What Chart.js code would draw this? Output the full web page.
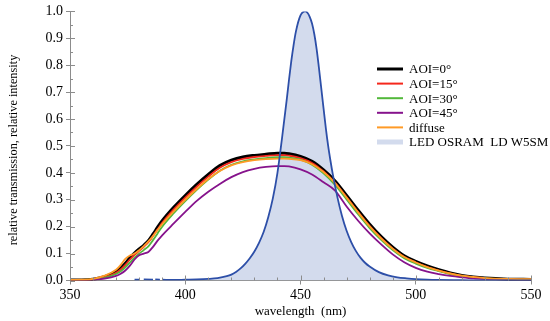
<!DOCTYPE html>
<html>
<head>
<meta charset="utf-8">
<script src="https://cdn.jsdelivr.net/npm/chart.js@4.4.0/dist/chart.umd.min.js"></script>
<style>
  html, body { margin: 0; padding: 0; background: #fff; }
  #wrap { width: 550px; height: 321px; position: relative; }
</style>
</head>
<body>
<div id="wrap"><canvas id="myChart"></canvas></div>
<script>
// transmission curves, all on the same wavelength grid (nm)
const wavelengths = [350,355,360,365,370,372,374,376,378,380,382,384,386,388,390,395,400,405,410,415,420,425,430,435,440,443,445,450,455,460,465,470,475,480,485,490,495,500,505,510,515,520,525,530,540,550];
const aoi0 =    [0.002,0.002,0.005,0.014,0.033,0.046,0.064,0.085,0.102,0.117,0.131,0.148,0.172,0.198,0.222,0.272,0.316,0.357,0.394,0.427,0.447,0.459,0.465,0.469,0.473,0.473,0.471,0.461,0.443,0.411,0.370,0.316,0.261,0.209,0.163,0.124,0.092,0.071,0.054,0.040,0.028,0.019,0.013,0.009,0.005,0.004];
const aoi15 =   [0.002,0.002,0.004,0.012,0.029,0.041,0.058,0.078,0.095,0.110,0.125,0.142,0.165,0.190,0.214,0.264,0.308,0.349,0.386,0.419,0.440,0.452,0.459,0.463,0.466,0.466,0.464,0.455,0.437,0.405,0.363,0.309,0.254,0.202,0.157,0.118,0.087,0.067,0.050,0.037,0.026,0.017,0.012,0.008,0.005,0.004];
const aoi30 =   [0.001,0.002,0.004,0.010,0.024,0.034,0.049,0.067,0.085,0.100,0.113,0.127,0.150,0.175,0.200,0.250,0.295,0.337,0.375,0.408,0.430,0.443,0.450,0.455,0.458,0.458,0.457,0.449,0.430,0.398,0.355,0.301,0.246,0.195,0.151,0.113,0.083,0.063,0.047,0.035,0.024,0.016,0.011,0.008,0.005,0.004];
const aoi45 =   [0.001,0.001,0.003,0.007,0.017,0.025,0.037,0.055,0.078,0.094,0.100,0.106,0.125,0.148,0.168,0.212,0.255,0.296,0.330,0.359,0.384,0.403,0.415,0.422,0.425,0.425,0.424,0.413,0.394,0.365,0.334,0.275,0.222,0.175,0.134,0.097,0.068,0.047,0.033,0.024,0.017,0.012,0.008,0.006,0.004,0.003];
const diffuse = [0.002,0.003,0.006,0.018,0.040,0.058,0.080,0.093,0.100,0.113,0.128,0.145,0.165,0.188,0.210,0.257,0.300,0.340,0.377,0.407,0.428,0.440,0.447,0.451,0.453,0.453,0.452,0.447,0.432,0.403,0.362,0.308,0.253,0.201,0.156,0.118,0.087,0.067,0.050,0.037,0.026,0.018,0.013,0.009,0.006,0.005];

// LED spectrum (null = gap in the measured trace)
const ledWavelengths = [378,380,381,382,386,386.5,387,389,389.5,390,395,400,405,410,414,418,420,422,424,426,428,430,432,434,436,438,440,442,444,445,446,447,448,450,452,453,454,455,456,457,458,459,460,461,462,463,464,466,468,470,472,474,476,478,480,484,488,492,496,500,505,510,520,530,540,550];
const ledIntensity =   [0.003,0.003,null,0.004,0.003,null,0.004,0.003,null,0.003,0.002,0.003,0.004,0.006,0.009,0.016,0.022,0.032,0.045,0.062,0.083,0.108,0.140,0.180,0.235,0.305,0.400,0.530,0.670,0.745,0.815,0.875,0.925,0.985,1.000,0.995,0.980,0.955,0.915,0.860,0.790,0.715,0.640,0.565,0.500,0.445,0.395,0.310,0.240,0.185,0.143,0.110,0.085,0.066,0.052,0.031,0.019,0.012,0.008,0.005,0.003,0.002,0.001,0.000,0.000,0.000];

const seriesLabels = ['AOI=0°', 'AOI=15°', 'AOI=30°', 'AOI=45°', 'diffuse', 'LED OSRAM  LD W5SM'];
const seriesColors = ['#000000', '#f5281c', '#52b83a', '#86138c', '#ff9a26', '#d3dbed'];
const ledLineColor = '#2d4fa8';

const xTickValues = [350, 400, 450, 500, 550];
const yTickValues = [0, 0.1, 0.2, 0.3, 0.4, 0.5, 0.6, 0.7, 0.8, 0.9, 1.0];

const serif = "'Liberation Serif', 'Times New Roman', serif";
const axisColor = '#8c8c8c';

function toPoints(xs, ys) {
    return xs.map((x, i) => ({ x: x, y: ys[i] }));
}

function curve(label, ys, color, width, order) {
    return {
        label: label,
        data: toPoints(wavelengths, ys),
        borderColor: color,
        borderWidth: width,
        pointRadius: 0,
        fill: false,
        cubicInterpolationMode: 'monotone',
        order: order
    };
}

// small extra ticks, Mathematica style
const minorTicks = {
    id: 'minorTicks',
    afterDraw(chart) {
        const ctx = chart.ctx;
        const x = chart.scales.x, y = chart.scales.y;
        const x0 = x.getPixelForValue(350), y0 = y.getPixelForValue(0);
        ctx.save();
        ctx.strokeStyle = axisColor;
        ctx.lineWidth = 1;
        ctx.beginPath();
        for (let v = 360; v < 550; v += 10) {
            if (v % 50 === 0) continue;
            const px = Math.round(x.getPixelForValue(v)) + 0.5;
            ctx.moveTo(px, y0); ctx.lineTo(px, y0 - 3);
        }
        for (let i = 0; i < yTickValues.length - 1; i++) {
            const py = Math.round(y.getPixelForValue(yTickValues[i] + 0.05)) + 0.5;
            ctx.moveTo(x0, py); ctx.lineTo(x0 + 3, py);
        }
        xTickValues.forEach(v => {
            const px = Math.round(x.getPixelForValue(v)) + 0.5;
            ctx.moveTo(px, y0); ctx.lineTo(px, y0 - 5);
        });
        yTickValues.forEach(v => {
            const py = Math.round(y.getPixelForValue(v)) + 0.5;
            ctx.moveTo(x0, py); ctx.lineTo(x0 + 5, py);
        });
        ctx.stroke();
        ctx.restore();
    }
};

const plotLegend = {
    id: 'plotLegend',
    afterDraw(chart) {
        const ctx = chart.ctx;
        ctx.save();
        ctx.font = '13px ' + serif;
        ctx.textBaseline = 'middle';
        ctx.fillStyle = '#000';
        seriesLabels.forEach((label, i) => {
            const rowY = 69 + i * 14.6;
            ctx.strokeStyle = seriesColors[i];
            ctx.lineWidth = i === 0 ? 3 : (i === 5 ? 5 : 2);
            ctx.beginPath();
            ctx.moveTo(377, rowY);
            ctx.lineTo(403, rowY);
            ctx.stroke();
            ctx.fillText(label, 409, rowY + 1);
        });
        ctx.restore();
    }
};

// y title drawn by hand so it can sit slightly lower than the scale centre
const yTitle = {
    id: 'yTitle',
    afterDraw(chart) {
        const ctx = chart.ctx;
        ctx.save();
        ctx.translate(14, 150);
        ctx.rotate(-Math.PI / 2);
        ctx.font = '12.3px ' + serif;
        ctx.fillStyle = '#000';
        ctx.textAlign = 'center';
        ctx.textBaseline = 'middle';
        ctx.fillText('relative transmission, relative intensity', 0, 0);
        ctx.restore();
    }
};

const ctx = document.querySelector('#myChart').getContext('2d');
new Chart(ctx, {
    type: 'line',
    data: {
        datasets: [
            {
                label: 'LED fill',
                data: toPoints(ledWavelengths, ledIntensity),
                borderWidth: 0,
                pointRadius: 0,
                backgroundColor: seriesColors[5],
                fill: 'origin',
                spanGaps: false,
                cubicInterpolationMode: 'monotone',
                order: 10
            },
            curve(seriesLabels[0], aoi0, seriesColors[0], 3, 6),
            curve(seriesLabels[1], aoi15, seriesColors[1], 1.8, 5),
            curve(seriesLabels[2], aoi30, seriesColors[2], 1.8, 4),
            curve(seriesLabels[3], aoi45, seriesColors[3], 1.8, 3),
            curve(seriesLabels[4], diffuse, seriesColors[4], 1.8, 2),
            {
                label: seriesLabels[5],
                data: toPoints(ledWavelengths, ledIntensity),
                borderColor: ledLineColor,
                borderWidth: 1.8,
                pointRadius: 0,
                fill: false,
                spanGaps: false,
                cubicInterpolationMode: 'monotone',
                order: 1
            }
        ]
    },
    options: {
        responsive: true,
        maintainAspectRatio: false,
        animation: false,
        layout: { padding: { top: 9, right: 19, left: 0, bottom: 0 } },
        plugins: {
            legend: { display: false },
            tooltip: { enabled: false }
        },
        scales: {
            x: {
                type: 'linear',
                min: 350,
                max: 550,
                afterFit(scale) { scale.height = 40.5; },
                afterBuildTicks(scale) { scale.ticks = xTickValues.map(v => ({ value: v })); },
                grid: { display: true, drawOnChartArea: false, drawTicks: true, tickLength: 4, color: axisColor },
                border: { display: true, color: axisColor, width: 1 },
                ticks: { color: '#000', font: { family: serif, size: 14 }, padding: 2, maxRotation: 0 },
                title: { display: true, text: 'wavelength  (nm)', color: '#000', font: { family: serif, size: 13 }, padding: { top: 0, bottom: 2 } }
            },
            y: {
                type: 'linear',
                min: 0,
                max: 1,
                afterFit(scale) { scale.width = 70; },
                afterBuildTicks(scale) { scale.ticks = yTickValues.map(v => ({ value: v })); },
                grid: { display: true, drawOnChartArea: false, drawTicks: true, tickLength: 4, color: axisColor },
                border: { display: true, color: axisColor, width: 1 },
                ticks: { color: '#000', font: { family: serif, size: 14 }, padding: 3, callback: v => v.toFixed(1) },
                title: { display: false }
            }
        }
    },
    plugins: [minorTicks, plotLegend, yTitle]
});
</script>
</body>
</html>
